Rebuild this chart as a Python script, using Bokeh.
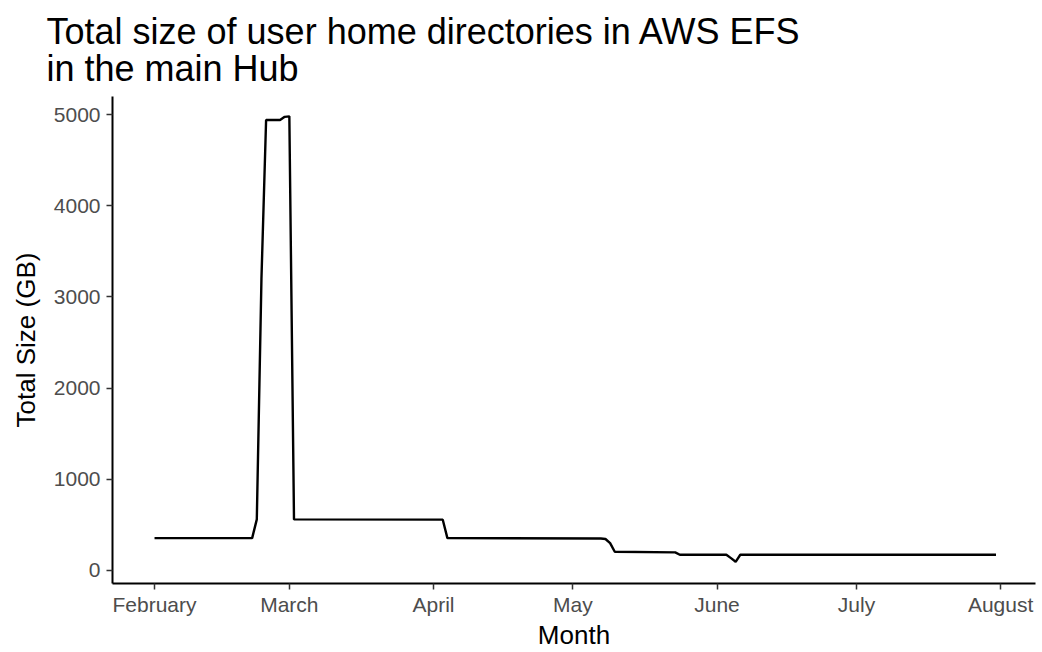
from datetime import datetime, timedelta
from bokeh.plotting import figure
from bokeh.models import Range1d, MonthsTicker, DatetimeTickFormatter, FixedTicker, ColumnDataSource
from bokeh.embed import file_html
from bokeh.resources import INLINE

# ---- data ----
dates = ["2024-02-01", "2024-02-22", "2024-02-23", "2024-02-24", "2024-02-25",
         "2024-02-28", "2024-02-29", "2024-03-01", "2024-03-02", "2024-04-03",
         "2024-04-04", "2024-05-07", "2024-05-08", "2024-05-09", "2024-05-10",
         "2024-05-23", "2024-05-24", "2024-06-03", "2024-06-04", "2024-06-05",
         "2024-06-06", "2024-07-31"]
size_gb = [355, 355, 560, 3200, 4940,
           4940, 4975, 4980, 560, 557,
           355, 350, 345, 300, 205,
           198, 172, 172, 135, 95,
           172, 172]
y_ticks = [0, 1000, 2000, 3000, 4000, 5000]

title_text = "Total size of user home directories in AWS EFS\nin the main Hub"
x_title = "Month"
y_title = "Total Size (GB)"

FONT = "Liberation Sans"

x = [datetime.strptime(d, "%Y-%m-%d") for d in dates]
src = ColumnDataSource(dict(x=x, y=size_gb))

t0 = datetime(2024, 2, 1)
x_start = t0 - timedelta(days=9.04)
x_end = t0 + timedelta(days=189.5)

p = figure(width=1042, height=652, x_axis_type="datetime",
           output_backend="svg", toolbar_location=None,
           x_range=Range1d(x_start, x_end), y_range=Range1d(-143, 5198),
           min_border_left=112, min_border_right=7,
           min_border_top=96, min_border_bottom=68)

p.line("x", "y", source=src, line_color="black", line_width=2.4)

p.title.text = title_text
p.title.text_font = FONT
p.title.text_font_size = "36px"
p.title.text_font_style = "normal"
p.title.text_color = "black"
p.title.text_line_height = 0.9
p.title.align = "left"
p.title.offset = -66
p.title.standoff = 15

p.xgrid.visible = False
p.ygrid.visible = False
p.outline_line_color = None
p.background_fill_color = "white"
p.border_fill_color = "white"

p.xaxis.ticker = MonthsTicker(months=list(range(12)))
p.xaxis.formatter = DatetimeTickFormatter(months="%B", days="%B")
p.yaxis.ticker = FixedTicker(ticks=y_ticks)

for ax in (p.xaxis[0], p.yaxis[0]):
    ax.axis_line_color = "black"
    ax.axis_line_width = 2
    ax.major_tick_line_color = "#333333"
    ax.major_tick_line_width = 1.5
    ax.major_tick_in = 0
    ax.major_tick_out = 6
    ax.minor_tick_line_color = None
    ax.major_label_text_font = FONT
    ax.major_label_text_font_size = "21px"
    ax.major_label_text_color = "#4D4D4D"
    ax.axis_label_text_font = FONT
    ax.axis_label_text_font_size = "26px"
    ax.axis_label_text_font_style = "normal"
    ax.axis_label_text_color = "black"

p.xaxis.axis_label = x_title
p.yaxis.axis_label = y_title
p.xaxis.major_label_standoff = 3
p.yaxis.major_label_standoff = 6
p.xaxis.axis_label_standoff = 1
p.yaxis.axis_label_standoff = 10

open("out.html", "w").write(file_html(p, INLINE))
